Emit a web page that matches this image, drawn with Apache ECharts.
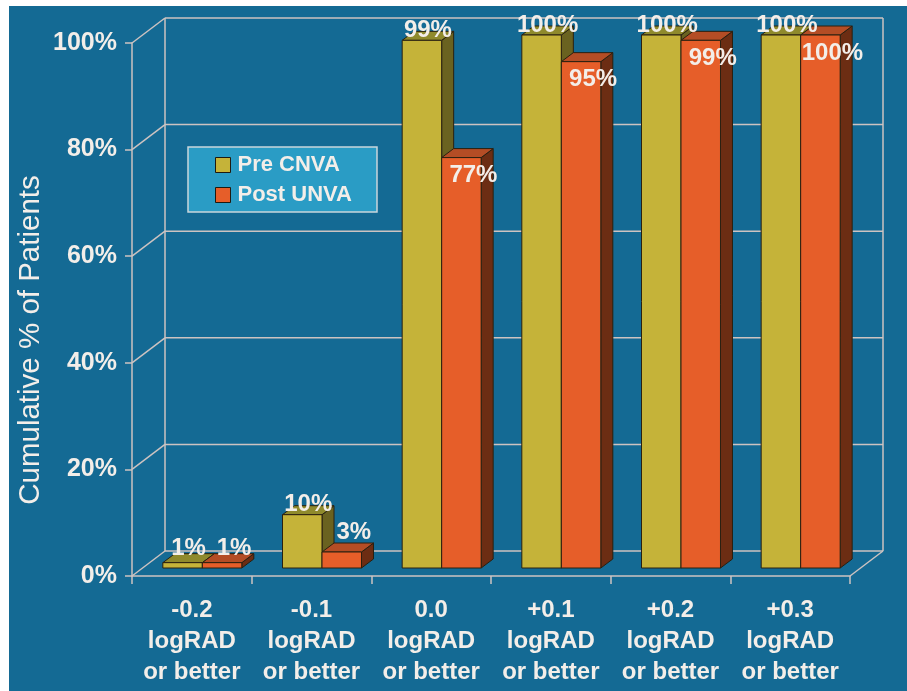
<!DOCTYPE html>
<html>
<head>
<meta charset="utf-8">
<script src="https://cdn.jsdelivr.net/npm/echarts@6/dist/echarts.min.js"></script>
<style>
  html, body { margin: 0; padding: 0; background: #ffffff; }
  #panel { position: absolute; left: 9px; top: 6px; width: 898px; height: 685px; background: #146a94; }
  #chart { position: absolute; left: 0; top: 0; width: 907px; height: 691px; }
</style>
</head>
<body>
<div id="panel"></div>
<div id="chart"></div>
<script>
// Cumulative share of patients reaching each visual-acuity threshold
const categories = [
  '-0.2\nlogRAD\nor better',
  '-0.1\nlogRAD\nor better',
  '0.0\nlogRAD\nor better',
  '+0.1\nlogRAD\nor better',
  '+0.2\nlogRAD\nor better',
  '+0.3\nlogRAD\nor better'
];
const preCNVA  = [1, 10, 99, 100, 100, 100];
const postUNVA = [1, 3, 77, 95, 99, 100];
const yTicks   = [0, 20, 40, 60, 80, 100];
const yTitle   = 'Cumulative % of Patients';

const FONT = '"Liberation Sans", Arial, sans-serif';
const TEXT = '#f3eee9';
const FRAME = '#cdc3c1';

// Pseudo-3D geometry (pixels)
const DEPTH = { x: 33, y: -25 };      // depth of the chart box
const BAR_FRONT = { x: 10.5, y: -8 }; // bars stand a little back from the front edge
const BAR_DEPTH = { x: 12, y: -9 };   // thickness of each bar

const preColors  = { front: '#c5b339', side: '#6a6220', top: '#8f8a2c' };
const postColors = { front: '#e65e29', side: '#6c2d13', top: '#b44d25' };
const OUTLINE = '#2a2010';

function pt(x, y) { return [x, y]; }

function barRenderer(side, colors) {
  return function (params, api) {
    const i = api.value(0);
    const v = api.value(1);
    const base = api.coord([i, 0]);
    const top = api.coord([i, v]);
    const band = api.size([1, 0])[0];
    const w = band * 0.33;
    const x0 = base[0] + BAR_FRONT.x + (side === 0 ? -w : 0);
    const x1 = x0 + w;
    const yb = base[1] + BAR_FRONT.y;
    const yt = top[1] + BAR_FRONT.y;
    const dx = BAR_DEPTH.x, dy = BAR_DEPTH.y;
    const stroke = { stroke: OUTLINE, lineWidth: 1 };

    let lx, ly;
    if (side === 0) {
      lx = (x0 + x1) / 2 + 6;
      ly = yt - (v < 5 ? 14 : 10);
    } else {
      lx = (x0 + x1) / 2 + 12;
      ly = v >= 50 ? yt + 18 : yt - (v < 2 ? 14 : 20);
    }

    return {
      type: 'group',
      children: [
        {
          type: 'polygon',
          shape: { points: [pt(x1, yt), pt(x1 + dx, yt + dy), pt(x1 + dx, yb + dy), pt(x1, yb)] },
          style: Object.assign({ fill: colors.side }, stroke)
        },
        {
          type: 'polygon',
          shape: { points: [pt(x0, yt), pt(x0 + dx, yt + dy), pt(x1 + dx, yt + dy), pt(x1, yt)] },
          style: Object.assign({ fill: colors.top }, stroke)
        },
        {
          type: 'rect',
          shape: { x: x0, y: yt, width: w, height: yb - yt },
          style: Object.assign({ fill: colors.front }, stroke)
        },
        {
          type: 'text',
          z2: 100,
          x: lx,
          y: ly,
          style: {
            text: v + '%',
            fill: TEXT,
            font: 'bold 24px ' + FONT,
            align: 'center',
            verticalAlign: 'middle'
          }
        }
      ]
    };
  };
}

// Side wall, back wall gridlines and floor edges
function frameRenderer(params, api) {
  const cs = params.coordSys;
  const v = api.value(1);
  const y = api.coord([0, v])[1];
  const xl = cs.x, xr = cs.x + cs.width;
  const segs = [
    [xl, y, xl + DEPTH.x, y + DEPTH.y],
    [xl + DEPTH.x, y + DEPTH.y, xr + DEPTH.x, y + DEPTH.y]
  ];
  if (v === 0) {
    segs.push([xr, y, xr + DEPTH.x, y + DEPTH.y]);
    segs.push([xl + DEPTH.x, cs.y + DEPTH.y, xl + DEPTH.x, y + DEPTH.y]);
    segs.push([xr + DEPTH.x, cs.y + DEPTH.y, xr + DEPTH.x, y + DEPTH.y]);
  }
  return {
    type: 'group',
    children: segs.map(s => ({
      type: 'line',
      shape: { x1: s[0], y1: s[1], x2: s[2], y2: s[3] },
      style: { stroke: FRAME, lineWidth: 1.5 }
    }))
  };
}

const chart = echarts.init(document.getElementById('chart'), null, { renderer: 'canvas' });

chart.setOption({
  backgroundColor: 'transparent',
  animation: false,
  textStyle: { fontFamily: FONT },
  grid: { left: 132, right: 57, top: 43, bottom: 115, containLabel: false, outerBoundsMode: 'none' },
  graphic: [
    {
      type: 'text',
      x: 31,
      y: 340,
      rotation: Math.PI / 2,
      style: {
        text: yTitle,
        fill: TEXT,
        font: '29.5px ' + FONT,
        align: 'center',
        verticalAlign: 'middle'
      }
    }
  ],
  legend: {
    data: ['Pre CNVA', 'Post UNVA'],
    orient: 'vertical',
    left: 188,
    top: 147,
    padding: [7, 25, 6, 27],
    itemGap: 8,
    itemWidth: 15,
    itemHeight: 15,
    icon: 'rect',
    backgroundColor: '#2a9cc5',
    borderColor: '#c9d6dc',
    borderWidth: 1.5,
    borderRadius: 0,
    itemStyle: { borderColor: '#1f1a10', borderWidth: 1 },
    textStyle: { color: TEXT, fontSize: 22, fontWeight: 'bold', fontFamily: FONT, lineHeight: 22, padding: [0, 0, 0, 2] },
    selectedMode: false
  },
  xAxis: {
    type: 'category',
    data: categories,
    boundaryGap: true,
    axisLine: { show: true, lineStyle: { color: FRAME, width: 1.5 } },
    axisTick: { show: true, interval: 0, length: 8, lineStyle: { color: FRAME, width: 1.5 } },
    axisLabel: {
      interval: 0,
      color: TEXT,
      fontSize: 24,
      fontWeight: 'bold',
      fontFamily: FONT,
      lineHeight: 31,
      margin: 19
    },
    splitLine: { show: false }
  },
  yAxis: {
    type: 'value',
    min: 0,
    max: 100,
    interval: 20,
    axisLine: { show: true, lineStyle: { color: FRAME, width: 1.5 } },
    axisTick: { show: true, length: 7, lineStyle: { color: FRAME, width: 1.5 } },
    axisLabel: {
      formatter: '{value}%',
      color: TEXT,
      fontSize: 25,
      fontWeight: 'bold',
      fontFamily: FONT,
      margin: 15,
      padding: [4, 0, 0, 0]
    },
    splitLine: { show: false }
  },
  series: [
    {
      name: 'frame',
      type: 'custom',
      silent: true,
      z: 1,
      renderItem: frameRenderer,
      data: yTicks.map(v => [0, v])
    },
    {
      name: 'Pre CNVA',
      type: 'custom',
      z: 2,
      itemStyle: { color: preColors.front },
      renderItem: barRenderer(0, preColors),
      data: preCNVA.map((v, i) => [i, v])
    },
    {
      name: 'Post UNVA',
      type: 'custom',
      z: 2,
      itemStyle: { color: postColors.front },
      renderItem: barRenderer(1, postColors),
      data: postUNVA.map((v, i) => [i, v])
    }
  ]
});
</script>
</body>
</html>
